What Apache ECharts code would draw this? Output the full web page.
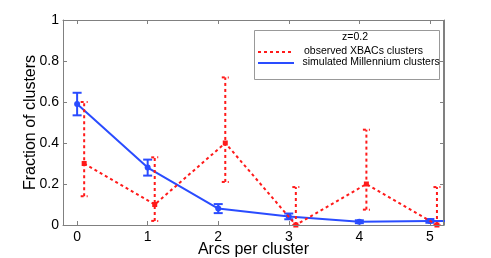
<!DOCTYPE html>
<html><head><meta charset="utf-8">
<script src="https://cdn.jsdelivr.net/npm/echarts@6/dist/echarts.min.js"></script>
<style>html,body{margin:0;padding:0;background:#fff}#c{width:491px;height:258px}</style>
</head><body><div id="c"></div>
<script>
const xTicks = [0, 1, 2, 3, 4, 5];
const yTicks = [0, 0.2, 0.4, 0.6, 0.8, 1];
// observed XBACs clusters (plotted at x + 0.1)
const obsX = [0.1, 1.1, 2.1, 3.1, 4.1, 5.1];
const obsY = [0.30, 0.10, 0.40, 0.00, 0.20, 0.00];
const obsLow = [0.14, 0.02, 0.21, 0.00, 0.075, 0.00];
const obsHigh = [0.60, 0.33, 0.72, 0.185, 0.465, 0.185];
// simulated Millennium clusters
const simX = [0, 1, 2, 3, 4, 5, 6];
const simY = [0.59, 0.28, 0.08, 0.042, 0.016, 0.02, 0.015];
const simErr = [0.055, 0.039, 0.022, 0.014, 0.007, 0.009, 0.007];
const legendTitle = 'z=0.2';
const obsName = 'observed XBACs clusters';
const simName = 'simulated Millennium clusters';

const RED = '#ff1a1a', BLUE = '#2a4cff', AX = '#808080';
const FONT = 'Liberation Sans, Arial, sans-serif';

const obsErrData = obsX.map((x, i) => [x, obsLow[i], obsHigh[i]]);
const simErrData = simX.map((x, i) => [x, simY[i] - simErr[i], simY[i] + simErr[i]]);

function errRender(color, dashed, capW, lw) {
  return function (params, api) {
    const x = api.value(0);
    const lo = api.coord([x, api.value(1)]);
    const hi = api.coord([x, api.value(2)]);
    const style = { stroke: color, lineWidth: lw, lineDash: dashed ? [3, 3] : null };
    return {
      type: 'group',
      children: [
        { type: 'line', shape: { x1: lo[0], y1: lo[1], x2: hi[0], y2: hi[1] }, style: style },
        { type: 'line', shape: { x1: lo[0] - capW, y1: lo[1], x2: lo[0] + capW, y2: lo[1] }, style: style },
        { type: 'line', shape: { x1: hi[0] - capW, y1: hi[1], x2: hi[0] + capW, y2: hi[1] }, style: style }
      ]
    };
  };
}

const chart = echarts.init(document.getElementById('c'), null, { renderer: 'canvas' });
const gridBox = { left: 63, right: 47, top: 20, bottom: 33 };
const tickStyle = { show: true, inside: true, length: 4, lineStyle: { color: AX } };
const plotW = 491 - gridBox.left - gridBox.right, plotH = 258 - gridBox.top - gridBox.bottom;
chart.setOption({
  animation: false,
  grid: Object.assign({ containLabel: false, outerBoundsMode: 'none' }, gridBox),
  xAxis: [{
    type: 'value', min: -0.2, max: 5.2, gridIndex: 0, position: 'bottom',
    name: 'Arcs per cluster', nameLocation: 'middle', nameGap: 17, nameMoveOverlap: false,
    nameTextStyle: { fontFamily: FONT, fontSize: 16, color: '#000' },
    axisLine: { show: true, onZero: false, lineStyle: { color: AX, width: 1 } },
    axisTick: Object.assign({ customValues: xTicks }, tickStyle),
    axisLabel: { customValues: xTicks, fontFamily: FONT, fontSize: 14, color: '#000', margin: 5 },
    splitLine: { show: false }
  }, {
    type: 'value', min: -0.2, max: 5.2, position: 'top',
    axisLine: { show: true, onZero: false, lineStyle: { color: AX, width: 1 } },
    axisTick: Object.assign({ customValues: xTicks }, tickStyle),
    axisLabel: { show: false }, splitLine: { show: false }
  }],
  yAxis: [{
    type: 'value', min: 0, max: 1, interval: 0.2, position: 'left',
    name: 'Fraction of clusters', nameLocation: 'middle', nameGap: 24, nameMoveOverlap: false,
    nameTextStyle: { fontFamily: FONT, fontSize: 16, color: '#000' },
    axisLine: { show: true, onZero: false, lineStyle: { color: AX, width: 1 } },
    axisTick: tickStyle,
    axisLabel: { fontFamily: FONT, fontSize: 14, color: '#000', margin: 4,
      formatter: v => String(+v.toFixed(1)) },
    splitLine: { show: false }
  }, {
    type: 'value', min: 0, max: 1, interval: 0.2, position: 'right',
    axisLine: { show: true, onZero: false, lineStyle: { color: AX, width: 1 } },
    axisTick: tickStyle,
    axisLabel: { show: false }, splitLine: { show: false }
  }],
  series: [
    {
      name: simName + ' errors', type: 'custom', xAxisIndex: 0, yAxisIndex: 0,
      renderItem: errRender(BLUE, false, 4.5, 2), data: simErrData, clip: true, z: 3
    },
    {
      name: simName, type: 'line', data: simX.map((x, i) => [x, simY[i]]),
      lineStyle: { color: BLUE, width: 2 }, itemStyle: { color: BLUE },
      symbol: 'circle', symbolSize: 6, showSymbol: true, clip: true, z: 4
    },
    {
      name: obsName + ' errors', type: 'custom',
      renderItem: errRender(RED, true, 3.5, 2), data: obsErrData, clip: true, z: 5
    },
    {
      name: obsName, type: 'line', data: obsX.map((x, i) => [x, obsY[i]]),
      lineStyle: { color: RED, width: 2, type: [3, 3] }, itemStyle: { color: RED },
      symbol: 'rect', symbolSize: 5, clip: false, z: 6
    }
  ],
  graphic: [
    { type: 'rect', shape: { x: gridBox.left + 0.5, y: gridBox.top + 0.5, width: plotW - 1, height: plotH },
      style: { fill: null, stroke: AX, lineWidth: 1 }, z: 50, silent: true },
    { type: 'rect', shape: { x: 254.5, y: 30.5, width: 185, height: 49 },
      style: { fill: '#fff', stroke: '#999', lineWidth: 1 }, z: 100 },
    { type: 'text', x: 355, y: 37.5, z: 101,
      style: { text: legendTitle, fontFamily: FONT, fontSize: 10.5, fill: '#000', align: 'center', verticalAlign: 'middle' } },
    { type: 'line', shape: { x1: 258, y1: 52, x2: 294, y2: 52 }, z: 101,
      style: { stroke: RED, lineWidth: 2, lineDash: [3, 3] } },
    { type: 'text', x: 304, y: 51.5, z: 101,
      style: { text: obsName, fontFamily: FONT, fontSize: 10.5, fill: '#000', verticalAlign: 'middle' } },
    { type: 'line', shape: { x1: 258, y1: 63, x2: 294, y2: 63 }, z: 101,
      style: { stroke: BLUE, lineWidth: 2 } },
    { type: 'text', x: 302.5, y: 62.5, z: 101,
      style: { text: simName, fontFamily: FONT, fontSize: 10.5, fill: '#000', verticalAlign: 'middle' } }
  ]
});
</script></body></html>
